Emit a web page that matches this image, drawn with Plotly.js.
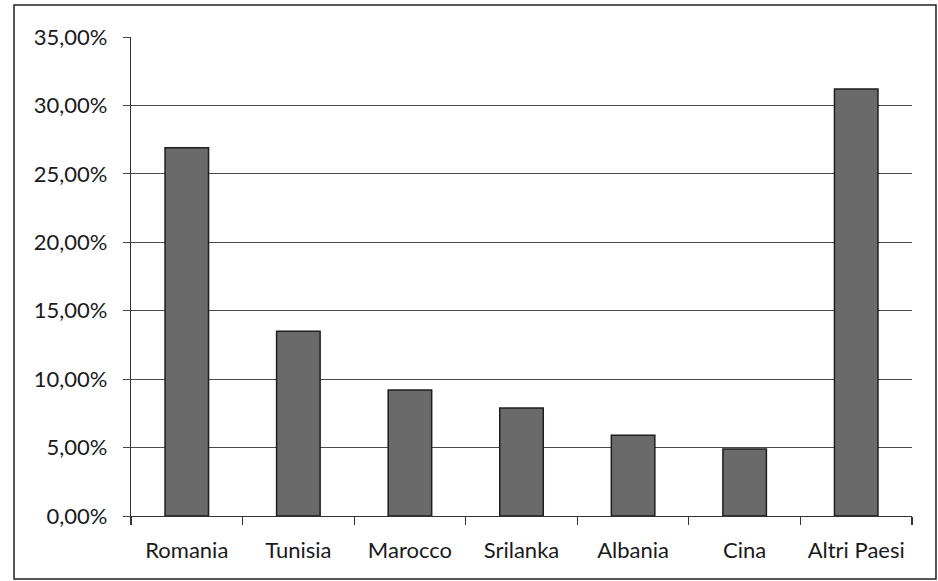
<!DOCTYPE html>
<html>
<head>
<meta charset="utf-8">
<script src="https://cdn.plot.ly/plotly-3.0.1.min.js"></script>
<style>
html,body{margin:0;padding:0;background:#fff;}
#chart{width:938px;height:581px;}
</style>
</head>
<body>
<div id="chart"></div>
<script>
const categories = ["Romania", "Tunisia", "Marocco", "Srilanka", "Albania", "Cina", "Altri Paesi"];
const shares = [0.269, 0.135, 0.092, 0.079, 0.059, 0.049, 0.312];
const yTicks = [0, 0.05, 0.10, 0.15, 0.20, 0.25, 0.30, 0.35];

const font = {family: "Lato, 'Open Sans', sans-serif", size: 21, color: "#1a1a1a"};

const trace = {
  type: "bar",
  x: categories,
  y: shares,
  marker: {color: "#6a6a6a", line: {color: "#1e1e1e", width: 1.5}},
  hoverinfo: "skip"
};

const layout = {
  width: 938, height: 581,
  margin: {l: 131, r: 26, t: 37, b: 65, pad: 0},
  paper_bgcolor: "#ffffff",
  plot_bgcolor: "#ffffff",
  separators: ",.",
  bargap: 0.61,
  showlegend: false,
  font: font,
  xaxis: {
    type: "category",
    showline: true, linecolor: "#333", linewidth: 1.2,
    ticks: "outside", tickson: "boundaries", ticklen: 8, tickcolor: "#333", tickwidth: 1.2,
    showgrid: false,
    tickfont: {family: font.family, size: 22, color: "#1a1a1a"},
    ticklabelstandoff: 14
  },
  yaxis: {
    range: [0, 0.35],
    tickvals: yTicks,
    tickformat: ".2%",
    showline: true, linecolor: "#333", linewidth: 1.2,
    ticks: "outside", ticklen: 7, tickcolor: "#444", tickwidth: 1,
    showgrid: true, gridcolor: "#4a4a4a", gridwidth: 1,
    zeroline: false,
    tickfont: {family: font.family, size: 22, color: "#1a1a1a"},
    ticklabelstandoff: 11
  },
  shapes: [{
    type: "rect", xref: "paper", yref: "paper",
    x0: -0.1498, x1: 1.0307, y0: -0.1315, y1: 1.0668,
    line: {color: "#222", width: 1.5}, layer: "below"
  }]
};

Plotly.newPlot("chart", [trace], layout, {staticPlot: true, displayModeBar: false});
</script>
</body>
</html>
